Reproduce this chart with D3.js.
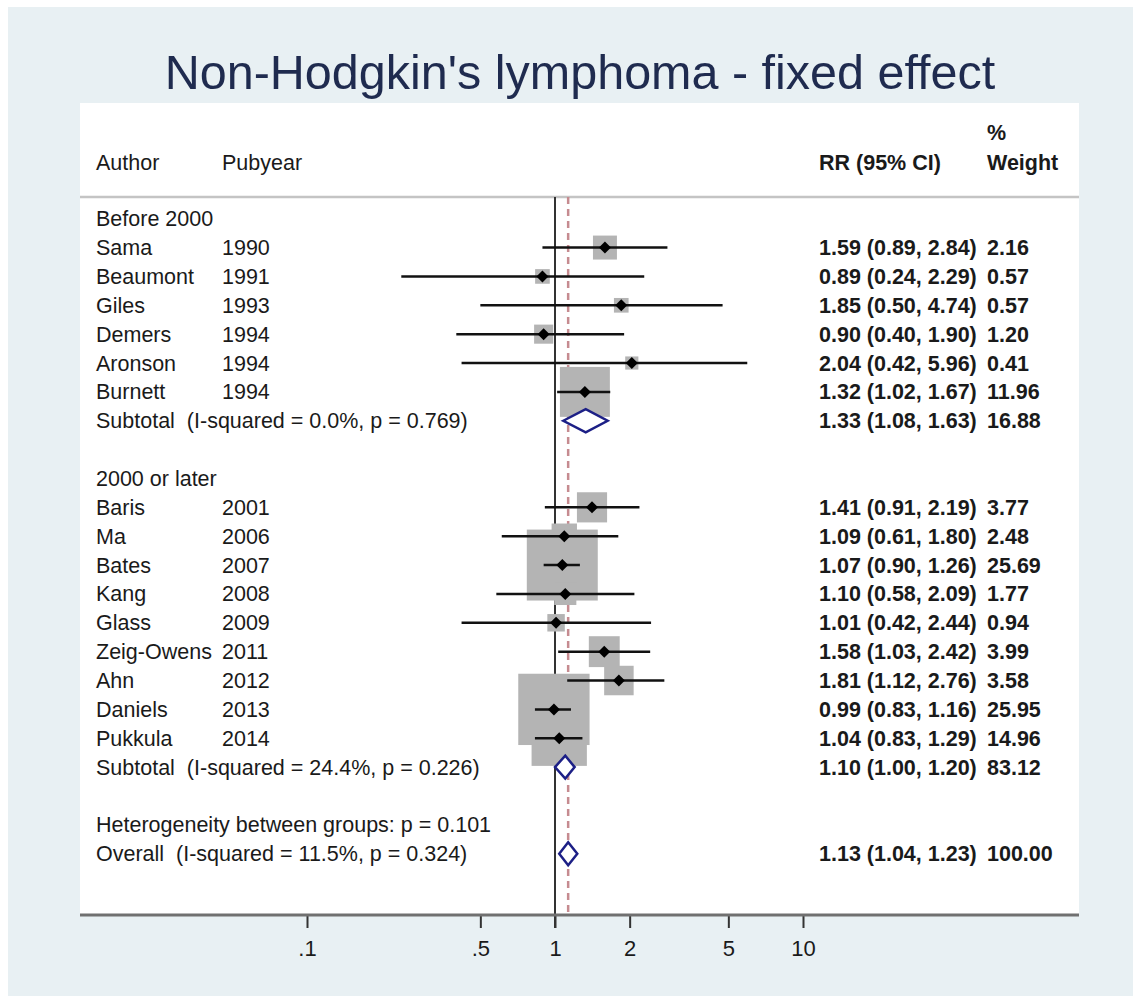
<!DOCTYPE html>
<html>
<head>
<meta charset="utf-8">
<script src="https://cdn.jsdelivr.net/npm/d3@7"></script>
<style>
  body { margin: 0; background: #fff; }
  svg text { font-family: "Liberation Sans", Arial, sans-serif; white-space: pre; }
</style>
</head>
<body>
<svg id="graph"></svg>
<script>
// study level data
const groups = ["Before 2000", "2000 or later"];
const authors = ["Sama", "Beaumont", "Giles", "Demers", "Aronson", "Burnett",
                 "Baris", "Ma", "Bates", "Kang", "Glass", "Zeig-Owens", "Ahn", "Daniels", "Pukkula"];
const pubyears = [1990, 1991, 1993, 1994, 1994, 1994,
                  2001, 2006, 2007, 2008, 2009, 2011, 2012, 2013, 2014];
const groupOf = [0, 0, 0, 0, 0, 0, 1, 1, 1, 1, 1, 1, 1, 1, 1];
const rr     = [1.59, 0.89, 1.85, 0.90, 2.04, 1.32, 1.41, 1.09, 1.07, 1.10, 1.01, 1.58, 1.81, 0.99, 1.04];
const ciLow  = [0.89, 0.24, 0.50, 0.40, 0.42, 1.02, 0.91, 0.61, 0.90, 0.58, 0.42, 1.03, 1.12, 0.83, 0.83];
const ciHigh = [2.84, 2.29, 4.74, 1.90, 5.96, 1.67, 2.19, 1.80, 1.26, 2.09, 2.44, 2.42, 2.76, 1.16, 1.29];
const weights = [2.16, 0.57, 0.57, 1.20, 0.41, 11.96, 3.77, 2.48, 25.69, 1.77, 0.94, 3.99, 3.58, 25.95, 14.96];

// pooled estimates
const subtotalLabels = ["Subtotal  (I-squared = 0.0%, p = 0.769)", "Subtotal  (I-squared = 24.4%, p = 0.226)"];
const subtotalRR = [1.33, 1.10];
const subtotalLow = [1.08, 1.00];
const subtotalHigh = [1.63, 1.20];
const subtotalWeight = [16.88, 83.12];
const heterogeneityLabel = "Heterogeneity between groups: p = 0.101";
const overallLabel = "Overall  (I-squared = 11.5%, p = 0.324)";
const overall = [1.13, 1.04, 1.23, 100.00];

const tickValues = [0.1, 0.5, 1, 2, 5, 10];
const tickLabels = [".1", ".5", "1", "2", "5", "10"];

const WIDTH = 1133, HEIGHT = 996;
const plot = {left: 80, right: 1079, top: 103, sep: 197, axis: 915};
const textColor = "#1a1a1a";

// build the row list
let rows = [];
groups.forEach((g, gi) => {
    rows.push({type: "group", label: g});
    authors.forEach((a, i) => {
        if (groupOf[i] !== gi) return;
        rows.push({type: "study", label: a, year: pubyears[i], est: rr[i], lo: ciLow[i], hi: ciHigh[i], w: weights[i]});
    });
    rows.push({type: "pooled", label: subtotalLabels[gi], est: subtotalRR[gi], lo: subtotalLow[gi], hi: subtotalHigh[gi], w: subtotalWeight[gi]});
    rows.push({type: "blank"});
});
rows.push({type: "text", label: heterogeneityLabel});
rows.push({type: "pooled", label: overallLabel, est: overall[0], lo: overall[1], hi: overall[2], w: overall[3]});
rows.forEach((r, i) => r.i = i);

const x = d3.scaleLog().domain([0.1, 10]).range([307, 803]);
const y = d3.scaleLinear().domain([0, rows.length - 1]).range([218.7, 853.7]);
const boxSide = d3.scaleSqrt().domain([0, d3.max(weights)]).range([4.8, 71.3]);

const svg = d3.select("#graph").attr("width", WIDTH).attr("height", HEIGHT);

svg.append("rect").attr("x", 8).attr("y", 7).attr("width", WIDTH - 8).attr("height", HEIGHT - 7)
    .attr("fill", "#e8f0f3");
svg.append("rect").attr("x", plot.left).attr("y", plot.top)
    .attr("width", plot.right - plot.left).attr("height", plot.axis - plot.top).attr("fill", "#fff");

svg.append("text").attr("x", 580).attr("y", 89).attr("text-anchor", "middle")
    .attr("font-size", 48.5).attr("fill", "#1f2b4f")
    .text("Non-Hodgkin's lymphoma - fixed effect");

// header
const header = svg.append("g").attr("font-size", 21.5).attr("fill", textColor);
header.append("text").attr("x", 96).attr("y", 170).text("Author");
header.append("text").attr("x", 222).attr("y", 170).text("Pubyear");
header.append("text").attr("x", 819).attr("y", 170).attr("font-weight", "bold").text("RR (95% CI)");
header.append("text").attr("x", 987).attr("y", 140).attr("font-weight", "bold").text("%");
header.append("text").attr("x", 987).attr("y", 170).attr("font-weight", "bold").text("Weight");

svg.append("line").attr("x1", plot.left).attr("x2", plot.right)
    .attr("y1", plot.sep).attr("y2", plot.sep)
    .attr("stroke", "#c4c4c4").attr("stroke-width", 2.5);

// reference lines
svg.append("line").attr("x1", x(1)).attr("x2", x(1)).attr("y1", plot.sep).attr("y2", plot.axis + 13)
    .attr("stroke", "#333").attr("stroke-width", 2);
svg.append("line").attr("x1", x(overall[0])).attr("x2", x(overall[0])).attr("y1", plot.sep).attr("y2", plot.axis)
    .attr("stroke", "#c68b90").attr("stroke-width", 2.5).attr("stroke-dasharray", "7,5");

const studies = rows.filter(r => r.type === "study");
const pooled = rows.filter(r => r.type === "pooled");

svg.append("g").attr("fill", "#b4b4b4")
    .selectAll("rect").data(studies).join("rect")
    .attr("x", d => x(d.est) - boxSide(d.w) / 2)
    .attr("y", d => y(d.i) - boxSide(d.w) / 2)
    .attr("width", d => boxSide(d.w))
    .attr("height", d => boxSide(d.w));

svg.append("g").attr("stroke", "#111").attr("stroke-width", 2.5)
    .selectAll("line").data(studies).join("line")
    .attr("x1", d => x(d.lo)).attr("x2", d => x(d.hi))
    .attr("y1", d => y(d.i)).attr("y2", d => y(d.i));

svg.append("g").attr("fill", "#000")
    .selectAll("path").data(studies).join("path")
    .attr("d", d => {
        let cx = x(d.est), cy = y(d.i), s = 6;
        return `M${cx - s},${cy}L${cx},${cy - s}L${cx + s},${cy}L${cx},${cy + s}Z`;
    });

svg.append("g").attr("fill", "#fff").attr("stroke", "#1c1f86").attr("stroke-width", 2.5)
    .selectAll("path").data(pooled).join("path")
    .attr("d", d => {
        let cy = y(d.i), h = 11.5;
        return `M${x(d.lo)},${cy}L${x(d.est)},${cy - h}L${x(d.hi)},${cy}L${x(d.est)},${cy + h}Z`;
    });

// axis
const axis = svg.append("g").attr("transform", `translate(0,${plot.axis})`)
    .call(d3.axisBottom(x).tickValues(tickValues)
          .tickFormat((d, i) => tickLabels[i]).tickSize(13).tickPadding(12));
axis.select(".domain").remove();
axis.selectAll(".tick line").attr("stroke", "#333").attr("stroke-width", 2);
axis.selectAll(".tick text")
    .attr("font-family", "'Liberation Sans Narrow', 'Arial Narrow', Arial, sans-serif")
    .attr("font-size", 22).attr("fill", textColor);
svg.append("line").attr("x1", plot.left).attr("x2", plot.right)
    .attr("y1", plot.axis).attr("y2", plot.axis)
    .attr("stroke", "#707070").attr("stroke-width", 3);

// row text
const labels = svg.append("g").attr("font-size", 21.5).attr("fill", textColor);
labels.selectAll("text.label").data(rows.filter(r => r.label)).join("text")
    .attr("class", "label").attr("x", 96).attr("y", d => y(d.i) + 7.5).text(d => d.label);
labels.selectAll("text.year").data(studies).join("text")
    .attr("class", "year").attr("x", 222).attr("y", d => y(d.i) + 7.5).text(d => d.year);
const estRows = studies.concat(pooled);
labels.selectAll("text.ci").data(estRows).join("text")
    .attr("class", "ci").attr("x", 819).attr("y", d => y(d.i) + 7.5).attr("font-weight", "bold")
    .text(d => `${d.est.toFixed(2)} (${d.lo.toFixed(2)}, ${d.hi.toFixed(2)})`);
labels.selectAll("text.wt").data(estRows).join("text")
    .attr("class", "wt").attr("x", 987).attr("y", d => y(d.i) + 7.5).attr("font-weight", "bold")
    .text(d => d.w.toFixed(2));
</script>
</body>
</html>
